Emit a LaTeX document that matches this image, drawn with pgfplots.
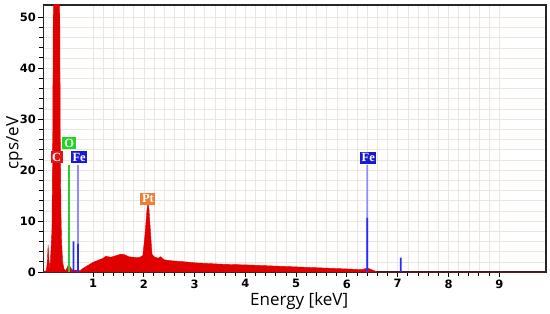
\documentclass[border=0pt]{standalone}
\usepackage{fontspec}
\setmainfont{DejaVu Sans}
\newfontfamily\labfont{Open Sans}
\newfontfamily\boxfont{Liberation Serif}
\usepackage{pgfplots}
\pgfplotsset{compat=1.18}
\usetikzlibrary{calc}
\definecolor{specred}{RGB}{224,0,0}
\definecolor{gridc}{RGB}{236,230,222}
\definecolor{felight}{RGB}{140,140,255}
\definecolor{festrong}{RGB}{40,40,255}
\definecolor{olight}{RGB}{40,205,40}
\definecolor{boxred}{RGB}{226,20,20}
\definecolor{boxgreen}{RGB}{30,215,30}
\definecolor{boxblue}{RGB}{25,25,210}
\definecolor{boxorange}{RGB}{240,125,50}

\pgfplotstableread{
x y
0.02 0
0.08 0.3
0.10 2
0.115 5.3
0.13 2.5
0.15 0.6
0.17 4
0.19 8
0.205 25
0.22 60
0.34 60
0.355 25
0.37 10
0.38 6
0.40 2
0.43 0.5
0.46 0.3
0.49 0.8
0.52 1.6
0.55 1.0
0.58 0.5
0.62 0.3
0.66 0.4
0.70 0.2
0.75 0.3
0.80 0.7
0.90 1.3
1.00 1.9
1.10 2.3
1.20 2.7
1.25 3.1
1.30 3.0
1.35 2.9
1.45 3.2
1.55 3.5
1.62 3.4
1.70 3.0
1.80 2.9
1.90 2.8
1.98 3.2
2.02 7
2.06 12
2.08 13.5
2.10 12.5
2.13 8
2.16 3.5
2.20 3.0
2.28 2.7
2.33 3.0
2.40 2.4
2.55 2.2
2.80 2.0
3.00 1.8
3.30 1.65
3.60 1.5
4.00 1.4
4.50 1.2
5.00 1.0
5.50 0.8
6.00 0.6
6.30 0.45
6.40 0.8
6.45 0.6
6.55 0.2
6.60 0
9.92 0
}\spectrum

\begin{document}
\begin{tikzpicture}
\begin{axis}[
scale only axis,
width=502.7pt,
height=267pt,
xmin=0.02, xmax=9.92,
ymin=0, ymax=52.4,
xtick={1,2,...,9},
ytick={0,10,...,50},
minor x tick num=4,
minor y tick num=4,
grid=both,
major grid style={gridc, line width=0.6pt},
minor grid style={gridc, line width=0.6pt},
tick align=outside,
tick pos=left,
major tick length=5pt,
minor tick length=4pt,
tick style={black, line width=1pt},
axis line style={black!85, line width=1.3pt},
tick label style={font=\fontsize{11.5}{12}\selectfont\bfseries},
/pgf/number format/assume math mode=true,
xticklabel style={yshift=1pt},
yticklabel style={xshift=1pt},
xlabel={Energy [keV]},
ylabel={cps/eV},
label style={font=\labfont\fontsize{17}{18}\selectfont},
xlabel style={at={(axis description cs:0.509,-0.124)}, anchor=base},
ylabel style={at={(axis description cs:-0.0577,0.483)}, anchor=center},
clip=true,
]
\coordinate (ll) at (rel axis cs:0,0);
\coordinate (ur) at (rel axis cs:1,1);
\addplot[fill=specred, draw=specred, line width=0.4pt] table[x=x,y=y]{\spectrum} \closedcycle;
% element marker lines
\addplot[ybar, bar width=1.8pt, fill=felight, draw=none] coordinates {(0.705,21) (6.40,21)};
\addplot[ybar, bar width=1.8pt, fill=olight, draw=none] coordinates {(0.525,21)};
\addplot[ybar, bar width=1.8pt, fill=festrong, draw=none] coordinates {(0.615,6) (0.705,5.5) (6.40,10.6) (7.06,2.8)};
% labels
\begin{scope}[every node/.style={font=\boxfont\bfseries\fontsize{12.5}{12.5}\selectfont, text=white, inner xsep=1.6pt, inner ysep=1.2pt, minimum height=12pt}]
\node[fill=boxred, minimum width=12pt] at (axis cs:0.285,22.5) {C};
\node[fill=boxgreen, minimum width=14pt] at (axis cs:0.53,25.3) {O};
\node[fill=boxblue] at (axis cs:0.725,22.5) {Fe};
\node[fill=boxorange] at (axis cs:2.08,14.4) {Pt};
\node[fill=boxblue] at (axis cs:6.42,22.4) {Fe};
\end{scope}
\end{axis}
\path ($(ll)+(-43.3pt,-41pt)$) rectangle ($(ur)+(4pt,5pt)$);
\end{tikzpicture}
\end{document}
